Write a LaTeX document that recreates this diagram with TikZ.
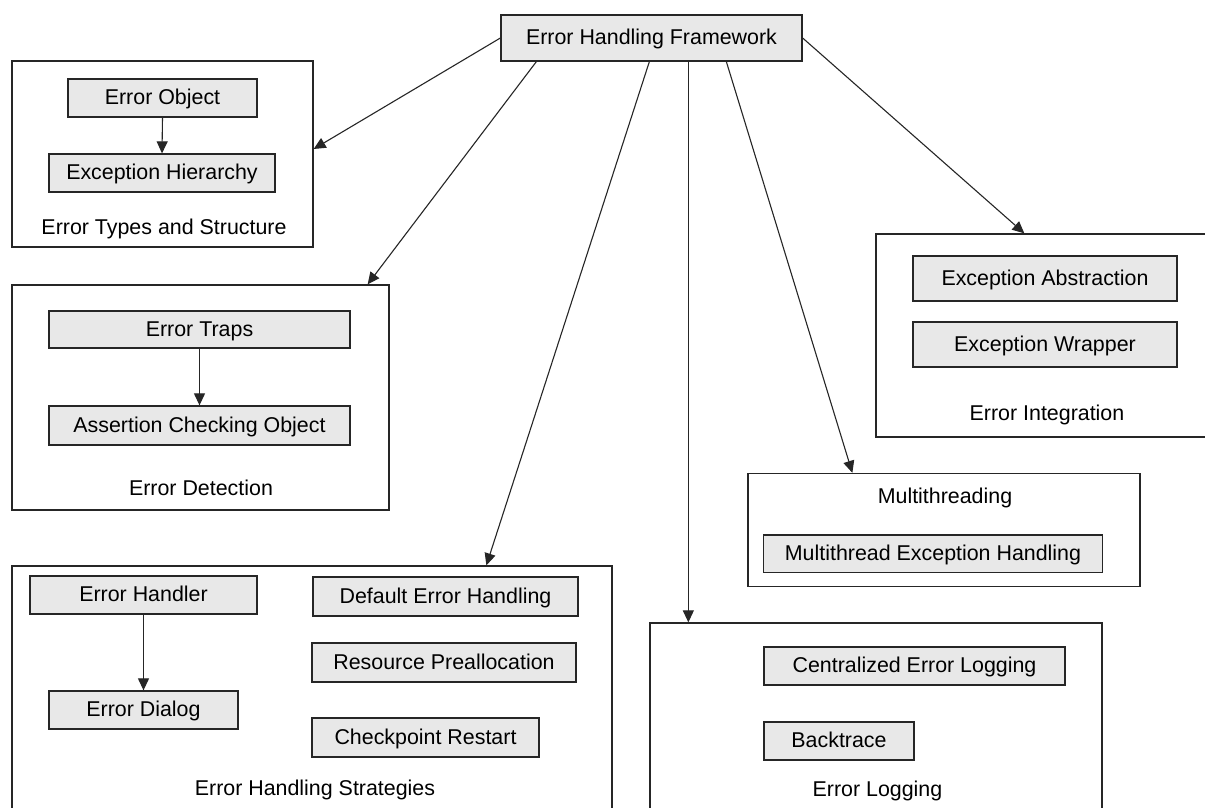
\documentclass[tikz,border=0pt]{standalone}
\usepackage{fontspec}
\setmainfont{Liberation Sans}
\usetikzlibrary{arrows.meta,calc}
\begin{document}
\begin{tikzpicture}[x=1pt,y=-1pt,
  every node/.style={font=\fontsize{21.4}{24}\selectfont, inner sep=0pt},
  box/.style={draw=black!85, line width=1.3pt, fill=black!9,
    text height=15pt, text depth=1.5pt},
  frame/.style={draw=black!85, line width=1.3pt},
  lbl/.style={anchor=base},
  link/.style={draw=black!85, line width=1.1pt,
    -{Triangle[length=12pt,width=11pt]}}]
\clip (0,0) rectangle (1205,807);
\fill[white] (0,0) rectangle (1205,807);

% root
\node[box, minimum width=301, minimum height=46] (fw) at (651.5,38) {Error Handling Framework};

% group frames
\node[frame, minimum width=301, minimum height=186] (g1) at (162.5,154) {};
\node[frame, minimum width=377, minimum height=225] (g2) at (200.5,397.5) {};
\node[frame, minimum width=600, minimum height=254] (g3) at (312,693) {};
\node[frame, minimum width=339, minimum height=203] (g4) at (1045.5,335.5) {};
\node[frame, minimum width=392, minimum height=113] (g5) at (944,530) {};
\node[frame, minimum width=452, minimum height=197] (g6) at (876,721.5) {};

% error types and structure
\node[box, minimum width=189, minimum height=38] (eo) at (162.5,98) {Error Object};
\node[box, minimum width=226, minimum height=38] (eh) at (162,173) {Exception Hierarchy};
\node[lbl] (l1) at (164,234) {Error Types and Structure};

% error detection
\node[box, minimum width=301, minimum height=37] (et) at (199.5,329.5) {Error Traps};
\node[box, minimum width=301, minimum height=39] (aco) at (199.5,425.5) {Assertion Checking Object};
\node[lbl] (l2) at (201,495) {Error Detection};

% error handling strategies
\node[box, minimum width=227, minimum height=38] (ehd) at (143.5,595) {Error Handler};
\node[box, minimum width=189, minimum height=38] (ed) at (143.5,710) {Error Dialog};
\node[box, minimum width=265, minimum height=39] (deh) at (445.5,596.5) {Default Error Handling};
\node[box, minimum width=264, minimum height=39] (rp) at (444,662.5) {Resource Preallocation};
\node[box, minimum width=227, minimum height=39] (cr) at (425.5,737.5) {Checkpoint Restart};
\node[lbl] (l3) at (315,795) {Error Handling Strategies};

% error integration
\node[box, minimum width=264, minimum height=45] (ea) at (1045,278.5) {Exception Abstraction};
\node[box, minimum width=264, minimum height=45] (ew) at (1045,344.5) {Exception Wrapper};
\node[lbl] (l4) at (1047,420) {Error Integration};

% multithreading
\node[lbl] (l5) at (945,503) {Multithreading};
\node[box, minimum width=338.5, minimum height=37.5] (meh) at (933,553.75) {Multithread Exception Handling};

% error logging
\node[box, minimum width=301, minimum height=38] (cel) at (914.5,666) {Centralized Error Logging};
\node[box, minimum width=150, minimum height=38] (bt) at (839,741) {Backtrace};
\node[lbl] (l6) at (877.5,796.5) {Error Logging};

% connectors inside groups
\draw[link] (eo.south) -- (eh.north);
\draw[link] (et.south) -- (aco.north);
\draw[link] (ehd.south) -- (ed.north);

% connectors from the root
\draw[link] (fw.west) -- ($(g1.east)+(0,-5)$);
\draw[link] ($(fw.south west)+(36,0)$) -- ($(g2.north east)+(-22,0)$);
\draw[link] ($(fw.south west)+(149,0)$) -- ($(g3.north west)+(475,0)$);
\draw[link] ($(fw.south west)+(188,0)$) -- ($(g6.north west)+(39,0)$);
\draw[link] ($(fw.south west)+(226,0)$) -- ($(g5.north west)+(105,0)$);
\draw[link] (fw.east) -- ($(g4.north west)+(149,0)$);
\end{tikzpicture}
\end{document}
